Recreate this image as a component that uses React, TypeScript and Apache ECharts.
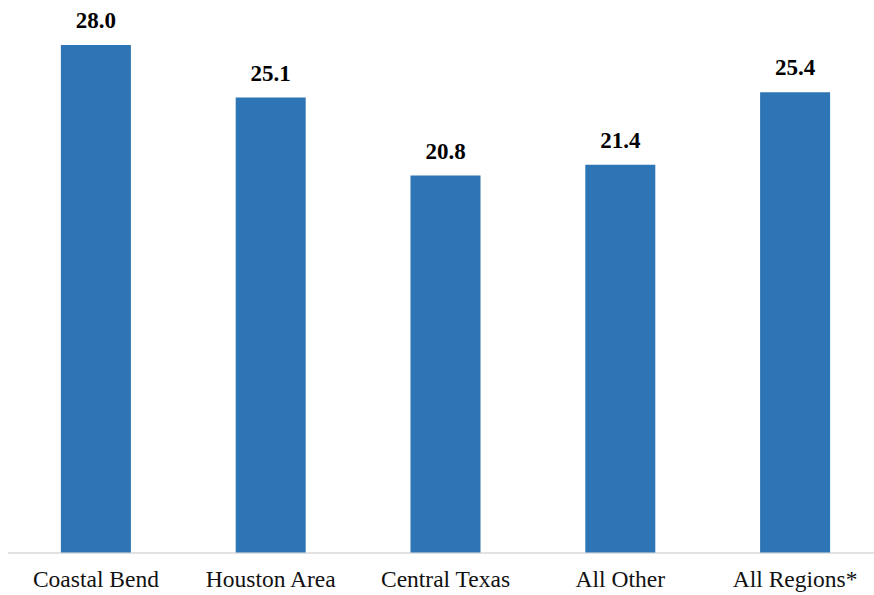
import React, { useEffect, useRef } from "react";
import * as echarts from "echarts";

const regions = ["Coastal Bend", "Houston Area", "Central Texas", "All Other", "All Regions*"];
const values = [28.0, 25.1, 20.8, 21.4, 25.4];

const SERIF = "'Liberation Serif', 'Times New Roman', serif";

export default function App() {
  const ref = useRef<HTMLDivElement>(null);

  useEffect(() => {
    if (!ref.current) return;
    const chart = echarts.init(ref.current, null, { renderer: "svg" });
    chart.setOption({
      animation: false,
      backgroundColor: "#ffffff",
      grid: {
        left: 8.5,
        right: -8.5,
        top: 45,
        bottom: 42.5,
        containLabel: false,
        outerBoundsMode: "none",
      },
      xAxis: {
        type: "category",
        data: regions,
        axisLine: { show: true, lineStyle: { color: "#d9d9d9", width: 1.5 } },
        axisTick: { show: false },
        axisLabel: {
          color: "#111111",
          fontFamily: SERIF,
          fontSize: 23.5,
          margin: 14.5,
        },
      },
      yAxis: {
        type: "value",
        min: 0,
        max: 28,
        show: false,
        splitLine: { show: false },
      },
      series: [
        {
          type: "bar",
          data: values,
          barWidth: 70,
          itemStyle: { color: "#2e75b6" },
          label: {
            show: true,
            position: "top",
            distance: 13,
            formatter: (p: any) => p.value.toFixed(1),
            color: "#000000",
            fontFamily: SERIF,
            fontWeight: "bold",
            fontSize: 23,
          },
        },
      ],
    });
    return () => chart.dispose();
  }, []);

  return (
    <div
      ref={ref}
      style={{ position: "fixed", left: 0, top: 0, width: 874, height: 595 }}
    />
  );
}
